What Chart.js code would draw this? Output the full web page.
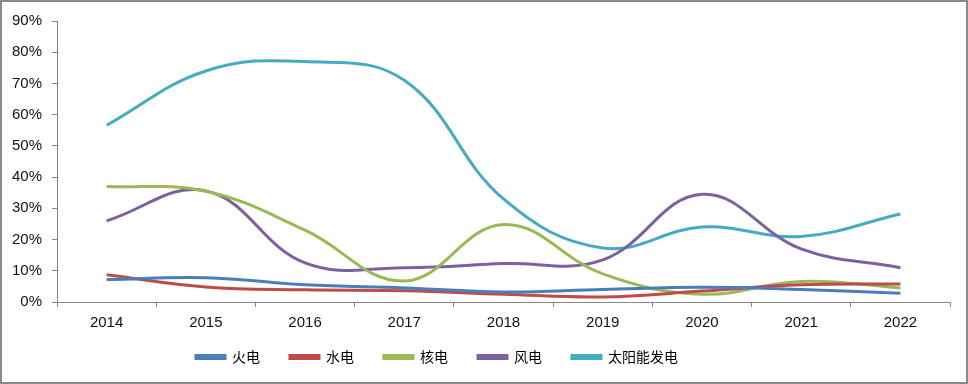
<!DOCTYPE html>
<html>
<head>
<meta charset="utf-8">
<script src="https://cdn.jsdelivr.net/npm/chart.js@4/dist/chart.umd.min.js"></script>
<style>
    html, body { margin: 0; padding: 0; background: #fff; }
    #wrap { width: 968px; height: 384px; box-sizing: border-box; border: 2px solid #8a8a8a; background: #fff; }
    canvas { display: block; }
</style>
</head>
<body>
<div id="wrap"><canvas id="powerChart" width="964" height="380"></canvas></div>
<script>
// years on the x axis
const years = ['2014', '2015', '2016', '2017', '2018', '2019', '2020', '2021', '2022'];
// values in percent
const fire    = [7.2, 7.8, 5.5, 4.5, 3.2, 4.0, 4.7, 4.0, 2.8];
const water   = [8.7, 4.8, 3.9, 3.6, 2.5, 1.6, 3.5, 5.5, 5.8];
const nuclear = [37.0, 35.5, 23.0, 6.7, 24.8, 9.0, 2.5, 6.6, 4.5];
const wind    = [26.0, 35.6, 12.5, 11.0, 12.3, 13.5, 34.5, 17.0, 11.0];
const solar   = [56.6, 74.0, 77.0, 71.0, 33.0, 17.3, 24.0, 21.0, 28.2];
const yTicks  = [0, 10, 20, 30, 40, 50, 60, 70, 80, 90];

const axisColor = '#868686';
const font = { family: '"Liberation Sans", Arial, sans-serif', size: 15 };

function series(label, data, color) {
    return {
        label: label,
        data: data,
        borderColor: color,
        backgroundColor: color,
        borderWidth: 3,
        pointRadius: 0,
        tension: 0.4,
        fill: false,
    };
}

// Excel puts the legend a bit left of centre and closer to the axis labels
const legendShift = {
    id: 'legendShift',
    afterLayout(chart) {
        const lg = chart.legend;
        lg.left -= 44;
        lg.right -= 44;
        lg.top -= 19;
        lg.bottom -= 19;
    },
};

const ctx = document.getElementById('powerChart').getContext('2d');
const powerChart = new Chart(ctx, {
    type: 'line',
    data: {
        labels: years,
        datasets: [
            series('火电', fire, '#4a7ebb'),
            series('水电', water, '#be4b48'),
            series('核电', nuclear, '#98b954'),
            series('风电', wind, '#7d60a0'),
            series('太阳能发电', solar, '#46aac5'),
        ],
    },
    plugins: [legendShift],
    options: {
        responsive: false,
        animation: false,
        layout: { padding: { top: 11, right: 16, left: 10, bottom: -11 } },
        plugins: {
            tooltip: { enabled: false },
            legend: {
                position: 'bottom',
                labels: {
                    boxWidth: 29,
                    boxHeight: 3,
                    padding: 30,
                    color: '#000',
                    font: { family: '"Noto Sans CJK SC", sans-serif', size: 14 },
                },
            },
        },
        scales: {
            x: {
                offset: true,
                grid: { offset: true, drawOnChartArea: false, tickLength: 5, color: axisColor },
                border: { color: axisColor, width: 1 },
                ticks: { color: '#111', font: font, padding: 7 },
            },
            y: {
                min: 0,
                max: 90,
                afterBuildTicks: axis => { axis.ticks = yTicks.map(v => ({ value: v })); },
                afterFit: axis => { axis.width = 45; },
                grid: { drawOnChartArea: false, tickLength: 5, color: axisColor },
                border: { color: axisColor, width: 1 },
                ticks: { color: '#111', font: font, padding: 10, callback: v => v + '%' },
            },
        },
    },
});
</script>
</body>
</html>
